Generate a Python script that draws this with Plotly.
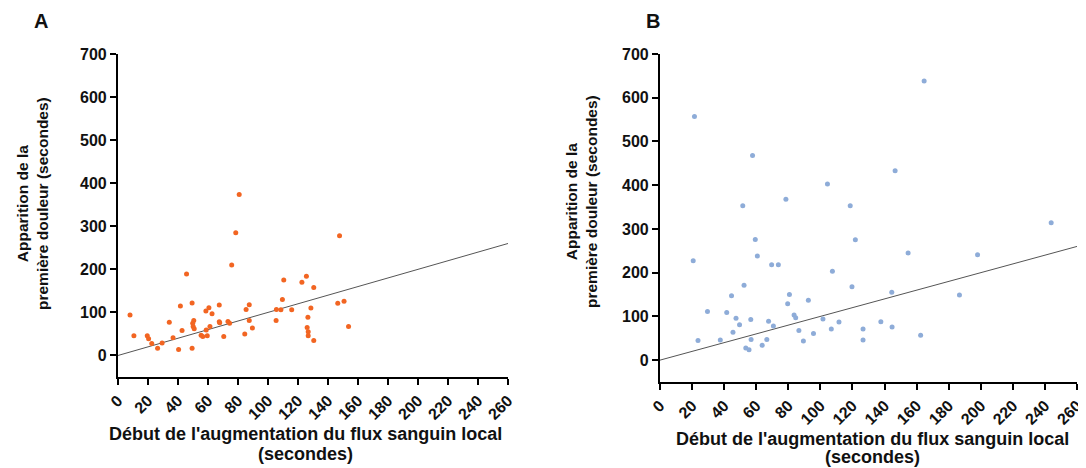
import plotly.graph_objects as go

# Panel A data (orange)
a_x = [8.0, 10.6, 19.5, 20.4, 22.5, 26.4, 29.4, 34.2, 36.7, 40.4, 41.6, 42.7, 45.7, 49.4, 49.4,
       49.8, 50.1, 50.5, 50.8, 55.4, 56.5, 58.6, 58.8, 59.5, 60.6, 61.3, 62.7, 67.5, 67.5, 67.8,
       70.5, 73.3, 74.4, 75.8, 78.5, 80.8, 84.5, 85.4, 87.5, 87.5, 89.6, 105.4, 105.6, 108.6,
       109.6, 110.5, 115.8, 122.6, 125.6, 126.1, 126.6, 126.8, 126.8, 128.6, 130.5, 130.5,
       146.5, 147.7, 150.7, 153.7]
a_y = [94, 46, 46, 39, 28, 17, 29, 77, 41, 14, 115, 58, 189, 122, 17,
       75, 67, 81, 62, 47, 44, 103, 59, 46, 111, 67, 97, 117, 78, 76,
       44, 79, 75, 210, 285, 374, 50, 107, 118, 81, 64, 81, 107, 106,
       130, 175, 106, 170, 184, 65, 89, 55, 46, 110, 158, 35,
       121, 278, 126, 67]

# Panel B data (blue)
b_x = [20.7, 21.5, 23.7, 29.6, 37.6, 41.6, 44.6, 45.5, 47.4, 49.6, 51.6, 52.4, 53.5, 55.5,
       56.6, 56.8, 57.7, 59.4, 60.7, 63.7, 66.6, 67.7, 69.6, 70.7, 73.8, 78.5, 79.6, 80.7,
       83.6, 84.6, 86.6, 89.4, 92.5, 95.7, 101.6, 104.4, 106.8, 107.5, 111.6, 118.6, 119.7,
       121.8, 126.6, 126.6, 137.7, 144.5, 144.7, 146.6, 154.7, 162.5, 164.7, 186.7, 198.0, 243.9]
b_y = [227, 557, 45, 111, 46, 109, 147, 64, 96, 81, 353, 171, 28, 24,
       93, 47, 468, 276, 238, 34, 47, 89, 218, 78, 218, 368, 129, 150,
       103, 97, 68, 44, 137, 61, 94, 403, 71, 203, 87, 353, 168,
       275, 71, 46, 88, 155, 76, 433, 245, 57, 638, 149, 241, 314]

# Identity reference line
line_x = [0, 260]
line_y = [0, 260]

x_ticks = list(range(0, 261, 20))
y_ticks = list(range(0, 701, 100))

ORANGE = "#F26522"
BLUE = "#8EACD8"
FONT = "Liberation Sans, Arial, sans-serif"
INK = "#111111"

W, H = 1086, 468
OFF = 8  # page body margin of the html page


def px(v):
    return (v - OFF) / W


def py(v):
    return 1 - (v - OFF) / H


fig = go.Figure()
fig.add_trace(go.Scatter(x=line_x, y=line_y, mode="lines", line=dict(color="#555555", width=1),
                         xaxis="x", yaxis="y", showlegend=False))
fig.add_trace(go.Scatter(x=a_x, y=a_y, mode="markers", marker=dict(color=ORANGE, size=5),
                         xaxis="x", yaxis="y", showlegend=False))
fig.add_trace(go.Scatter(x=line_x, y=line_y, mode="lines", line=dict(color="#555555", width=1),
                         xaxis="x2", yaxis="y2", showlegend=False))
fig.add_trace(go.Scatter(x=b_x, y=b_y, mode="markers", marker=dict(color=BLUE, size=5),
                         xaxis="x2", yaxis="y2", showlegend=False))


def xax(d0, d1, anchor):
    return dict(domain=[px(d0), px(d1)], range=[0, 260], anchor=anchor, tickvals=x_ticks,
                tickangle=-45, showline=True, linecolor="black", linewidth=2.2,
                ticks="outside", ticklen=6, tickwidth=2, tickcolor="black",
                showgrid=False, zeroline=False, automargin=False,
                tickfont=dict(family=FONT, size=16, color=INK, weight="bold"))


def yax(top, bottom, anchor):
    return dict(domain=[py(bottom), py(top)], range=[-50, 700], anchor=anchor,
                tickvals=y_ticks, showline=True, linecolor="black", linewidth=2.2,
                ticks="outside", ticklen=6, tickwidth=2, tickcolor="black",
                showgrid=False, zeroline=False, automargin=False,
                tickfont=dict(family=FONT, size=16, color=INK, weight="bold"))


fig.update_layout(
    width=W, height=H,
    margin=dict(l=0, r=0, t=0, b=0),
    paper_bgcolor="white", plot_bgcolor="white",
    xaxis=xax(118, 508, "y"),
    yaxis=yax(54, 377, "x"),
    xaxis2=xax(660, 1077, "y2"),
    yaxis2=yax(54, 382, "x2"),
)

xt_font = dict(family=FONT, size=18, color=INK, weight="bold")
yt_font = dict(family=FONT, size=15.5, color=INK, weight="bold")
xtitle_1 = "Début de l'augmentation du flux sanguin local"
xtitle_2 = "(secondes)"
ytitle = "Apparition de la<br>première douleur (secondes)"


def ann(text, x, y, font, angle=0):
    return dict(text=text, x=px(x), y=py(y), xref="paper", yref="paper", showarrow=False,
                xanchor="center", yanchor="middle", font=font, align="center",
                textangle=angle)


annotations = [
    ann("A", 41, 21, dict(family=FONT, size=20, color=INK, weight="bold")),
    ann("B", 653, 21, dict(family=FONT, size=20, color=INK, weight="bold")),
    ann(xtitle_1, 305, 434, xt_font),
    ann(xtitle_2, 305, 454, xt_font),
    ann(xtitle_1, 872, 439, xt_font),
    ann(xtitle_2, 872, 457, xt_font),
    ann(ytitle, 32, 204, yt_font, -90),
    ann(ytitle, 581, 202, yt_font, -90),
]
fig.update_layout(annotations=annotations)

fig.write_html("out.html")
